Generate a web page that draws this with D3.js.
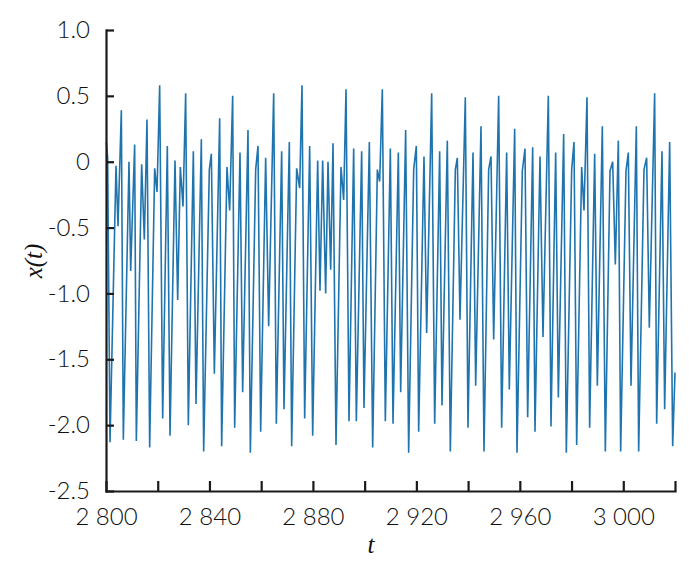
<!DOCTYPE html>
<html>
<head>
<meta charset="utf-8">
<script src="https://cdn.jsdelivr.net/npm/d3@7"></script>
<style>
  body { margin: 0; background: #fff; }
  .axis text { font-family: Lato, "Open Sans", sans-serif; font-weight: 300; font-size: 24px; fill: #111; }
  .axis path, .axis line { stroke: #1a1a1a; stroke-width: 2.2px; }
  .title { font-family: "Liberation Serif", "DejaVu Serif", serif; font-style: italic; font-size: 25px; fill: #111; }
</style>
</head>
<body>
<div id="chart"></div>
<script>
// time samples (t) and signal x(t)
var tValues = [
  2800.13, 2800.64, 2801.55, 2803.87, 2804.64, 2805.93, 2806.70, 2808.89, 2809.54, 2811.08,
  2811.73, 2813.79, 2814.82, 2815.85, 2816.88, 2818.82, 2819.72, 2820.75, 2821.91, 2823.71,
  2824.75, 2826.68, 2827.71, 2828.74, 2829.77, 2830.80, 2831.83, 2833.77, 2834.80, 2836.86,
  2837.76, 2839.95, 2840.73, 2841.89, 2843.95, 2844.72, 2846.78, 2847.81, 2848.97, 2849.75,
  2851.81, 2852.84, 2854.90, 2855.81, 2857.87, 2858.77, 2859.80, 2861.73, 2862.89, 2864.83,
  2865.86, 2867.92, 2868.82, 2870.88, 2871.79,
  2873.72, 2874.88, 2875.78, 2876.81, 2878.75, 2879.91, 2881.84, 2882.74, 2883.77, 2884.93,
  2885.84, 2886.87, 2887.77, 2888.93, 2890.86, 2891.89, 2892.80, 2893.96, 2895.76, 2896.79,
  2898.85, 2899.75, 2901.82, 2903.11, 2904.91, 2905.81, 2906.84, 2908.00, 2909.94, 2910.97,
  2913.03, 2913.93, 2915.86, 2917.02, 2918.96, 2919.99, 2920.89, 2922.95, 2923.98, 2925.92,
  2927.08, 2929.01, 2929.91, 2931.97, 2933.13, 2935.07, 2935.84, 2936.87, 2938.93, 2939.96,
  2941.90, 2942.93, 2944.99, 2946.15,
  2947.95, 2948.86, 2949.89, 2951.82, 2952.98, 2954.91, 2955.94, 2958.01, 2958.91, 2960.97,
  2962.00, 2963.03, 2964.97, 2965.87, 2967.80, 2968.96, 2971.02, 2972.05, 2973.86, 2974.89,
  2976.95, 2977.98, 2980.05, 2980.95, 2981.98, 2983.91, 2984.81, 2985.97, 2987.00, 2988.94,
  2989.97, 2991.90, 2993.06, 2994.87, 2995.90, 2996.93, 2998.09, 2998.99, 3001.05, 3001.95,
  3002.99, 3005.05, 3005.95, 3008.01, 3009.04, 3010.07, 3012.13, 3012.91, 3014.97, 3016.00,
  3017.94, 3019.10, 3020.00
];
var xValues = [
  0.15, 0.03, -2.13, -0.03, -0.49, 0.39, -2.11, 0.00, -0.83, 0.13,
  -2.12, -0.02, -0.59, 0.32, -2.17, -0.05, -0.23, 0.58, -1.95, 0.12,
  -2.08, 0.01, -1.05, -0.04, -0.34, 0.52, -2.00, 0.08, -1.84, 0.17,
  -2.20, -0.06, 0.06, -1.61, 0.33, -2.16, -0.04, -0.37, 0.50, -2.02,
  0.07, -1.75, 0.24, -2.21, -0.06, 0.12, -2.05, 0.03, -1.25, 0.52,
  -1.99, 0.08, -1.88, 0.15, -2.16,
  -0.05, -0.20, 0.58, -1.95, 0.12, -2.08, 0.01, -0.98, 0.01, -1.00,
  0.00, -0.82, 0.14, -2.15, -0.04, -0.29, 0.55, -1.97, 0.10, -1.97,
  0.08, -1.87, 0.15, -2.17, -0.06, -0.15, 0.55, -1.97, 0.10, -1.99,
  0.07, -1.75, 0.24, -2.21, -0.06, 0.12, -2.05, 0.04, -1.30, 0.52,
  -1.99, 0.08, -1.85, 0.16, -2.20, -0.06, 0.03, -1.20, 0.49, -2.02,
  0.07, -1.70, 0.27, -2.20,
  -0.06, 0.04, -1.35, 0.50, -2.02, 0.07, -1.73, 0.25, -2.21, -0.07,
  0.10, -1.94, 0.11, -2.05, 0.04, -1.33, 0.50, -2.01, 0.07, -1.79,
  0.21, -2.21, -0.06, 0.15, -2.15, -0.04, -0.37, 0.49, -2.02, 0.06,
  -1.70, 0.27, -2.20, -0.07, 0.00, -0.78, 0.16, -2.20, -0.07, 0.07,
  -1.70, 0.27, -2.20, -0.06, 0.03, -1.26, 0.52, -1.99, 0.08, -1.88,
  0.15, -2.16, -1.60
];

var xTicks = [2800, 2820, 2840, 2860, 2880, 2900, 2920, 2940, 2960, 2980, 3000, 3020];
var xLabelTicks = [2800, 2840, 2880, 2920, 2960, 3000];
var xTickLabels = ["2 800", "2 840", "2 880", "2 920", "2 960", "3 000"];
var yTicks = [-2.5, -2.0, -1.5, -1.0, -0.5, 0, 0.5, 1.0];
var yTickLabels = ["-2.5", "-2.0", "-1.5", "-1.0", "-0.5", "0", "0.5", "1.0"];

var W = 700, H = 569;
var lineColor = "#1f74ad";

var svg = d3.select("#chart")
    .append("svg")
    .attr("width", W)
    .attr("height", H);

var x = d3.scaleLinear().domain([2800, 3020]).range([106, 675]);
var y = d3.scaleLinear().domain([-2.5, 1.0]).range([491, 30]);

var data = tValues.map((t, i) => ({ t: t, v: xValues[i] }));

var line = d3.line()
    .x(d => x(d.t))
    .y(d => y(d.v));

svg.append("path")
    .datum(data)
    .attr("fill", "none")
    .attr("stroke", lineColor)
    .attr("stroke-width", 1.6)
    .attr("d", line);

// x axis, ticks pointing inward, labels every 40
var xAxis = d3.axisBottom(x)
    .tickValues(xTicks)
    .tickSizeInner(-10)
    .tickSizeOuter(0)
    .tickPadding(17)
    .tickFormat(d => {
        var k = xLabelTicks.indexOf(d);
        return k < 0 ? "" : xTickLabels[k];
    });
svg.append("g")
    .attr("class", "x axis")
    .attr("transform", "translate(0," + y(-2.5) + ")")
    .call(xAxis);

var yAxis = d3.axisLeft(y)
    .tickValues(yTicks)
    .tickSizeInner(-8)
    .tickSizeOuter(0)
    .tickPadding(16)
    .tickFormat((d, i) => yTickLabels[i]);
svg.append("g")
    .attr("class", "y axis")
    .attr("transform", "translate(" + x(2800) + ",0)")
    .call(yAxis);

svg.selectAll(".axis path").attr("stroke-linecap", "square");

// axis titles
svg.append("text")
    .attr("class", "title")
    .attr("transform", "translate(42,261) rotate(-90)")
    .attr("text-anchor", "middle")
    .text("x(t)");

svg.append("text")
    .attr("class", "title")
    .attr("x", 371)
    .attr("y", 553)
    .attr("text-anchor", "middle")
    .text("t");
</script>
</body>
</html>
